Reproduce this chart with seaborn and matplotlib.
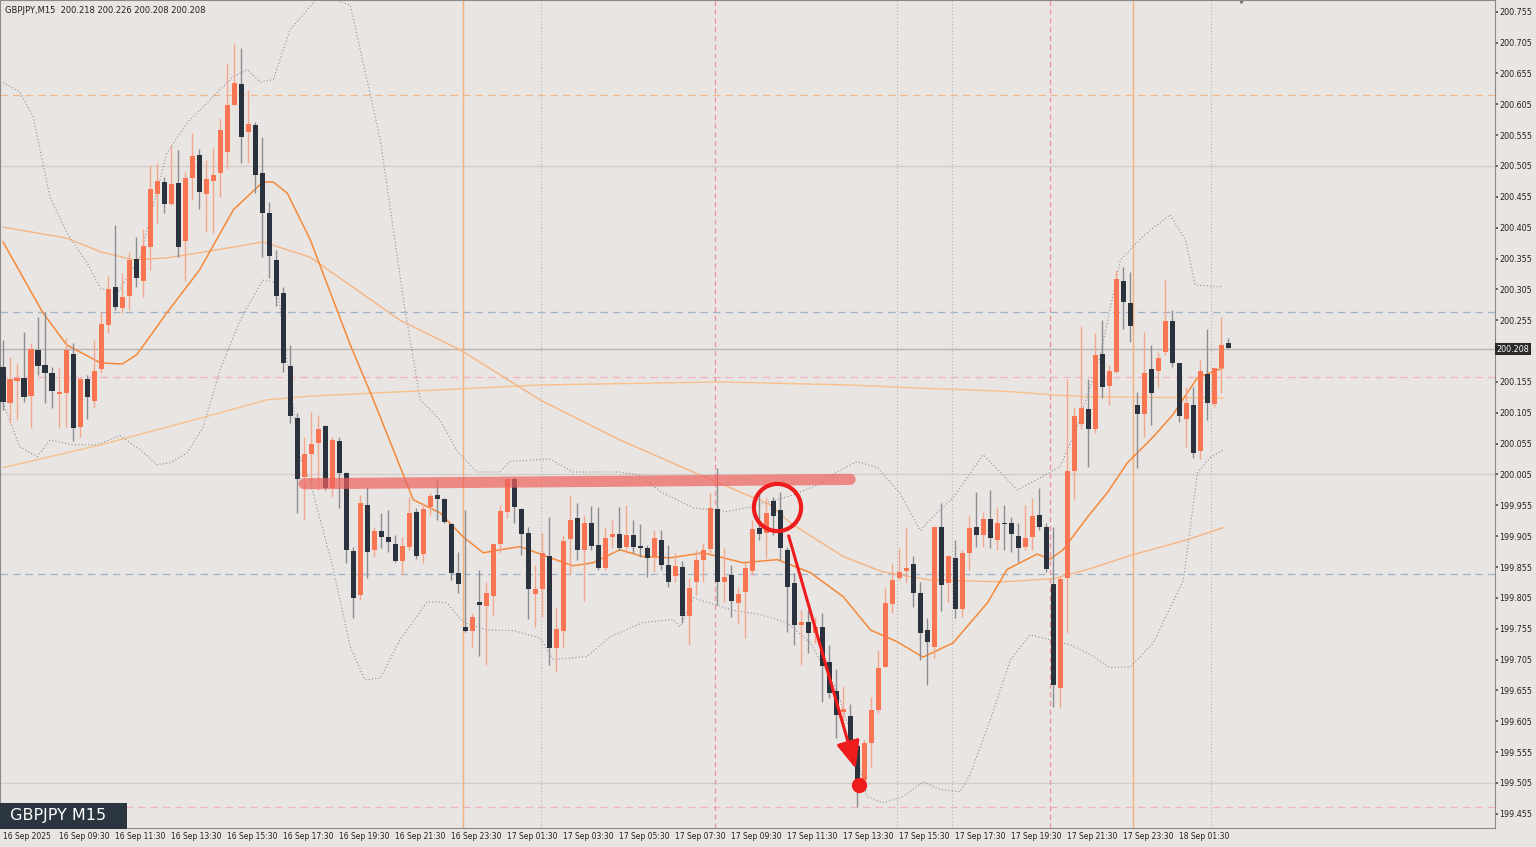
import numpy as np
import pandas as pd
import matplotlib
matplotlib.use("Agg")
import matplotlib.pyplot as plt
import seaborn as sns

# ---------------- data ----------------
opens = [200.180,200.121,200.157,200.162,200.133,200.207,200.183,200.170,200.136,200.137,
 200.200,200.082,200.159,200.124,200.176,200.248,200.309,200.275,200.294,200.354,
 200.319,200.374,200.460,200.479,200.444,200.478,200.384,200.486,200.523,200.460,
 200.481,200.494,200.528,200.604,200.638,200.560,200.572,200.494,200.429,200.353,
 200.299,200.181,200.097,200.001,200.039,200.056,200.084,199.983,200.060,200.008,
 199.881,199.810,199.956,199.883,199.914,199.904,199.893,199.865,199.888,199.945,
 199.876,199.952,199.972,199.966,199.925,199.846,199.757,199.752,199.799,199.792,
 199.808,199.893,199.945,199.997,199.949,199.910,199.812,199.820,199.873,199.723,
 199.752,199.901,199.935,199.883,199.927,199.891,199.854,199.904,199.909,199.888,
 199.907,199.889,199.886,199.872,199.899,199.859,199.841,199.855,199.776,199.831,
 199.867,199.885,199.949,199.831,199.842,199.797,199.815,199.849,199.919,199.910,
 199.962,199.948,199.883,199.829,199.761,199.766,199.748,199.758,199.701,199.654,
 199.620,199.614,199.565,199.510,199.570,199.624,199.693,199.795,199.837,199.849,
 199.860,199.813,199.753,199.726,199.920,199.829,199.870,199.787,199.878,199.920,
 199.907,199.933,199.899,199.927,199.927,199.906,199.888,199.904,199.940,199.920,
 199.828,199.659,199.837,200.011,200.087,200.111,200.079,200.200,200.148,200.171,
 200.319,200.283,200.118,200.103,200.176,200.173,200.204,200.253,200.186,200.095,
 200.118,200.043,200.168,200.120,200.178,200.218]
closes = [200.123,200.160,200.162,200.131,200.209,200.181,200.170,200.141,200.139,200.207,
 200.081,200.159,200.131,200.173,200.249,200.306,200.277,200.293,200.353,200.324,
 200.375,200.468,200.481,200.444,200.475,200.374,200.486,200.521,200.463,200.484,
 200.491,200.563,200.604,200.640,200.552,200.573,200.491,200.429,200.359,200.294,
 200.186,200.099,199.997,200.039,200.055,200.079,199.983,200.061,200.008,199.883,
 199.805,199.958,199.880,199.914,199.904,199.896,199.865,199.889,199.943,199.873,
 199.949,199.970,199.966,199.928,199.846,199.828,199.752,199.774,199.794,199.813,
 199.893,199.946,199.998,199.953,199.909,199.820,199.820,199.878,199.723,199.755,
 199.898,199.932,199.883,199.927,199.889,199.854,199.902,199.909,199.886,199.907,
 199.888,199.886,199.870,199.902,199.859,199.831,199.857,199.776,199.821,199.867,
 199.883,199.951,199.831,199.839,199.800,199.812,199.854,199.917,199.909,199.943,
 199.938,199.886,199.823,199.761,199.766,199.748,199.758,199.695,199.651,199.615,
 199.625,199.559,199.494,199.570,199.624,199.692,199.797,199.834,199.847,199.854,
 199.813,199.748,199.734,199.920,199.826,199.873,199.787,199.878,199.919,199.907,
 199.933,199.902,199.927,199.925,199.909,199.886,199.902,199.938,199.920,199.852,
 199.664,199.836,200.011,200.100,200.113,200.079,200.199,200.147,200.173,200.322,
 200.285,200.246,200.103,200.170,200.137,200.193,200.253,200.186,200.099,200.121,
 200.040,200.173,200.121,200.178,200.215,200.210]
highs = [200.223,200.196,200.186,200.236,200.218,200.260,200.268,200.180,200.178,200.227,
 200.218,200.162,200.167,200.223,200.268,200.327,200.410,200.332,200.366,200.390,
 200.403,200.507,200.510,200.487,200.539,200.531,200.496,200.559,200.533,200.515,
 200.534,200.583,200.672,200.705,200.697,200.628,200.577,200.552,200.447,200.369,
 200.309,200.215,200.105,200.066,200.107,200.102,200.086,200.066,200.065,200.009,
 199.888,199.972,199.985,199.920,199.943,199.948,199.907,199.904,199.969,199.951,
 199.959,199.975,199.997,199.967,199.927,199.880,199.948,199.781,199.851,199.831,
 199.894,199.956,199.998,200.001,199.951,199.920,199.859,199.910,199.936,199.791,
 199.907,199.972,199.959,199.940,199.954,199.953,199.920,199.932,199.953,199.956,
 199.932,199.924,199.891,199.915,199.915,199.891,199.878,199.864,199.838,199.883,
 199.894,199.975,200.016,199.886,199.859,199.823,199.862,199.932,199.975,199.969,
 199.969,199.977,199.888,199.846,199.786,199.786,199.774,199.781,199.729,199.689,
 199.662,199.633,199.570,199.575,199.645,199.721,199.823,199.862,199.886,199.919,
 199.873,199.831,199.773,199.920,199.959,199.875,199.899,199.883,199.940,199.977,
 199.944,199.980,199.953,199.956,199.936,199.927,199.956,199.967,199.983,199.927,
 199.920,199.842,200.159,200.115,200.246,200.159,200.234,200.256,200.182,200.337,
 200.342,200.333,200.139,200.236,200.215,200.204,200.320,200.272,200.186,200.147,
 200.147,200.191,200.240,200.180,200.260,200.227]
lows = [200.110,200.089,200.094,200.123,200.081,200.167,200.121,200.113,200.081,200.082,
 200.060,200.066,200.095,200.113,200.170,200.235,200.272,200.267,200.272,200.309,
 200.293,200.337,200.413,200.429,200.442,200.358,200.319,200.450,200.436,200.398,
 200.397,200.455,200.500,200.604,200.510,200.510,200.461,200.358,200.324,200.278,
 200.171,200.089,199.943,199.932,199.992,199.980,199.980,199.969,199.951,199.862,
 199.773,199.802,199.838,199.872,199.886,199.880,199.863,199.842,199.883,199.868,
 199.862,199.940,199.932,199.927,199.834,199.813,199.749,199.726,199.710,199.697,
 199.778,199.878,199.935,199.927,199.875,199.771,199.757,199.774,199.697,199.685,
 199.723,199.842,199.867,199.800,199.883,199.851,199.851,199.886,199.883,199.878,
 199.878,199.872,199.839,199.847,199.851,199.823,199.831,199.765,199.729,199.810,
 199.831,199.878,199.794,199.799,199.774,199.765,199.740,199.842,199.899,199.870,
 199.907,199.867,199.750,199.729,199.697,199.716,199.732,199.637,199.643,199.578,
 199.599,199.559,199.466,199.505,199.531,199.619,199.693,199.781,199.834,199.829,
 199.791,199.705,199.664,199.708,199.784,199.799,199.773,199.774,199.851,199.888,
 199.888,199.886,199.883,199.883,199.880,199.863,199.883,199.883,199.915,199.847,
 199.628,199.627,199.748,199.964,200.078,200.017,200.072,200.129,200.118,200.170,
 200.240,200.220,200.016,200.066,200.086,200.146,200.199,200.180,200.090,200.050,
 200.032,200.030,200.094,200.115,200.137,200.210]

ma_fast_idx = [0,5.7,9.1,13.9,17,19.1,23.4,28.1,32.9,37.1,38.6,40.6,43.9,49.6,52.9,58.6,62.4,65.7,68.6,71,
 73.9,77.7,81.4,84.3,88.1,91.4,95.3,100,105.7,110.6,115.3,120,123.9,127.7,131.4,135.7,140.6,143.4,147.7,
 149.6,151.4,154.9,157.7,160.6,164.3,167.1,170.6,174.3]
ma_fast_val = [200.382,200.267,200.215,200.186,200.184,200.199,200.267,200.337,200.434,200.479,200.479,200.461,
 200.385,200.215,200.126,199.964,199.943,199.904,199.878,199.883,199.888,199.872,199.857,199.862,199.883,
 199.872,199.870,199.878,199.862,199.867,199.846,199.807,199.753,199.734,199.709,199.732,199.797,199.851,
 199.876,199.868,199.883,199.936,199.975,200.024,200.066,200.102,200.162,200.178]
ma_mid_idx = [0,9.1,13.9,18.6,23.4,30.6,37.1,43.9,56.7,65.3,76.7,88.1,99.6,109.6,112.4,120,125.7,132.4,
 142.9,150,154.9,161.4,169.1,174.3]
ma_mid_val = [200.406,200.388,200.366,200.353,200.356,200.369,200.382,200.357,200.255,200.207,200.126,200.061,
 200.004,199.956,199.927,199.872,199.847,199.834,199.831,199.836,199.851,199.875,199.899,199.919]
ma_slow_idx = [0,13.9,28.1,37.7,43.9,56.7,76.7,102.4,121,131,142.9,150,154.9,174.3]
ma_slow_val = [200.016,200.053,200.096,200.126,200.132,200.139,200.150,200.155,200.150,200.145,200.140,
 200.134,200.131,200.129]
bb_up_idx = [0,2.4,4.3,6.7,9.1,12,13.9,16.3,19.6,23.4,26.3,30,32.9,34.9,36.7,38.6,41,45.3,49.6,53.9,57.4,
 59.6,62.4,64.9,67.7,71,72.4,78.1,81.4,88.1,91,93.9,98.6,103.4,107.1,112.9,116.3,119.1,122,124.9,128.1,
 131,133.4,135.7,140,144.9,147.7,151,153.4,156.7,159.6,163.1,166.7,168.9,170.3,174.1]
bb_up_val = [200.640,200.625,200.585,200.455,200.397,200.348,200.307,200.299,200.358,200.526,200.575,200.617,
 200.650,200.661,200.641,200.645,200.726,200.782,200.766,200.547,200.272,200.126,200.094,200.042,200.009,
 200.009,200.026,200.030,200.009,200.009,200.004,199.977,199.951,199.945,199.953,199.972,199.988,200.009,
 200.026,200.016,199.975,199.914,199.943,199.967,200.037,199.980,199.997,200.018,200.082,200.196,200.353,
 200.394,200.426,200.385,200.312,200.309]
bb_lo_idx = [0,2.4,4.9,6.7,10,13.4,16.7,19.6,22,23.9,26.3,28.6,31,33.9,37.1,39.1,42.4,43.9,47.1,49.6,51.7,
 53.9,56.7,60.6,63.4,65.7,69.1,72.9,76.7,78.6,83.4,86.7,91.4,95.7,96.7,98.6,103.9,108.1,112,115.3,119.1,
 121.4,123.4,125.7,128.6,131.4,133.9,136.7,138.1,141,143.9,146.7,149.6,152.4,155.3,158.1,161,164.3,168.6,
 170.6,172.4,174.3]
bb_lo_val = [200.121,200.050,200.034,200.061,200.053,200.053,200.068,200.045,200.021,200.024,200.040,200.082,
 200.175,200.256,200.320,200.316,200.034,199.992,199.855,199.726,199.672,199.675,199.737,199.799,199.797,
 199.766,199.753,199.752,199.740,199.705,199.710,199.742,199.765,199.770,199.758,199.805,199.786,199.778,
 199.765,199.732,199.656,199.575,199.483,199.473,199.483,199.507,199.494,199.491,199.518,199.607,199.705,
 199.745,199.737,199.729,199.713,199.692,199.693,199.732,199.834,200.008,200.032,200.045]

x_labels = ["16 Sep 2025","16 Sep 09:30","16 Sep 11:30","16 Sep 13:30","16 Sep 15:30","16 Sep 17:30",
 "16 Sep 19:30","16 Sep 21:30","16 Sep 23:30","17 Sep 01:30","17 Sep 03:30","17 Sep 05:30","17 Sep 07:30",
 "17 Sep 09:30","17 Sep 11:30","17 Sep 13:30","17 Sep 15:30","17 Sep 17:30","17 Sep 19:30","17 Sep 21:30",
 "17 Sep 23:30","18 Sep 01:30"]
y_ticks = [199.455,199.505,199.555,199.605,199.655,199.705,199.755,199.805,199.855,199.905,199.955,200.005,
 200.055,200.105,200.155,200.255,200.305,200.355,200.405,200.455,200.505,200.555,200.605,200.655,
 200.705,200.755]
last_price = 200.208
resistance = [199.990, 199.997]   # thick red line level (left, right)
resistance_idx = [43, 121]
circle_idx, circle_price = 110.6, 199.952
arrow_from = (112.1, 199.910)
arrow_to = (121.9, 199.524)
dot = (122.3, 199.502)

# ---------------- drawing ----------------
sns.set_theme(style="white")
plt.rcParams['font.family'] = ['DejaVu Sans']
BG = "#e9e5e2"
BULL = "#fb7552"
BEAR = "#2a333d"

fig = plt.figure(figsize=(15.36, 8.47), dpi=100, facecolor=BG)
ax = fig.add_axes([0.0, 0.0224, 0.9733, 0.9776])
ax.set_facecolor(BG)

df = pd.DataFrame({"o": opens, "c": closes, "h": highs, "l": lows})
df["i"] = np.arange(len(df))
up = df[df.c >= df.o]
dn = df[df.c < df.o]

for lvl in [200.505, 200.005, 199.505]:
    ax.axhline(lvl, color="#d2cdc9", lw=1.0, zorder=0)
ax.axhline(200.620, color="#f0b98c", lw=0.9, ls=(0, (6, 4)), zorder=0)
ax.axhline(200.268, color="#9fb2cc", lw=0.9, ls=(0, (6, 4)), zorder=0)
ax.axhline(200.163, color="#f0b3c0", lw=0.9, ls=(0, (6, 4)), zorder=0)
ax.axhline(199.844, color="#9fb2cc", lw=0.9, ls=(0, (6, 4)), zorder=0)
ax.axhline(199.466, color="#f0b3c0", lw=0.9, ls=(0, (6, 4)), zorder=0)
ax.axhline(last_price, color="#b9b4b0", lw=1.0, zorder=0)

for v in [65.7, 161.4]:
    ax.axvline(v, color="#f3b07a", lw=1.0, zorder=0)
for v in [101.7, 149.6]:
    ax.axvline(v, color="#ee8f9a", lw=0.9, ls=(0, (4, 3)), zorder=0)
for v in [76.9, 127.7, 135.6, 172.6]:
    ax.axvline(v, color="#b8b4b0", lw=0.8, ls=(0, (1, 2)), zorder=0)

sns.lineplot(x=bb_up_idx, y=bb_up_val, ax=ax, color="#8f8f98", lw=0.8, ls=(0, (1, 2)), zorder=1)
sns.lineplot(x=bb_lo_idx, y=bb_lo_val, ax=ax, color="#8f8f98", lw=0.8, ls=(0, (1, 2)), zorder=1)
sns.lineplot(x=ma_slow_idx, y=ma_slow_val, ax=ax, color="#f7c18c", lw=1.0, zorder=1)
sns.lineplot(x=ma_mid_idx, y=ma_mid_val, ax=ax, color="#f6b583", lw=1.0, zorder=1)
sns.lineplot(x=ma_fast_idx, y=ma_fast_val, ax=ax, color="#f4893a", lw=1.1, zorder=2)

ax.vlines(up.i, up.l, up.h, color="#f4a68f", lw=1.0, zorder=3)
ax.vlines(dn.i, dn.l, dn.h, color="#8a8d92", lw=1.0, zorder=3)
ax.bar(up.i, (up.c - up.o).clip(lower=0.0012), bottom=up.o, width=0.72, color=BULL, zorder=4, linewidth=0)
ax.bar(dn.i, (dn.o - dn.c).clip(lower=0.0012), bottom=dn.c, width=0.72, color=BEAR, zorder=4, linewidth=0)

ax.plot(resistance_idx, resistance, color="#f0625e", alpha=0.7, lw=8, solid_capstyle="round", zorder=5)
ax.plot([circle_idx], [circle_price], marker="o", ms=34, mfc="none", mec="#ee1c1c", mew=3, zorder=6)
ax.annotate("", xy=arrow_to, xytext=arrow_from,
            arrowprops=dict(arrowstyle="-|>,head_length=1.4,head_width=0.6", color="#ee1c1c", lw=2.2), zorder=6)
ax.plot([dot[0]], [dot[1]], "o", color="#ee1c1c", ms=10, zorder=7)

ax.set_xlim(-0.43, 213.1)
ax.set_ylim(199.432, 200.774)
ax.yaxis.tick_right()
ax.set_yticks(y_ticks)
ax.set_yticklabels([f"{v:.3f}" for v in y_ticks], fontsize=5.8, color="#222")
ax.tick_params(axis="y", length=2, pad=1, color="#555")
ticks_x = [8 * k for k in range(len(x_labels))]
ax.set_xticks(ticks_x)
ax.set_xticklabels(x_labels, fontsize=5.5, color="#222", ha="left")
ax.tick_params(axis="x", length=2, pad=1, color="#555")
for s in ax.spines.values():
    s.set_color("#8a8a8a")
    s.set_linewidth(0.8)
ax.set_xlabel(""); ax.set_ylabel("")

ax.text(1.001, (last_price - 199.432) / (200.774 - 199.432), f"{last_price:.3f}", transform=ax.transAxes,
        fontsize=5.8, color="white", va="center", ha="left",
        bbox=dict(boxstyle="square,pad=0.2", fc="#2a2a2a", ec="none"))

fig.text(0.003, 0.993, "GBPJPY,M15  200.218 200.226 200.208 200.208", fontsize=6.0, color="#222", va="top")
fig.text(0.003, 0.037, " GBPJPY M15   ", fontsize=11.5, color="white", va="center",
         bbox=dict(boxstyle="square,pad=0.35", fc="#2b3540", ec="none"))
ax.plot([0.83], [1.0], marker="v", color="#777", ms=5, transform=ax.transAxes, clip_on=False)

fig.savefig("out.png", dpi=100, facecolor=BG)
